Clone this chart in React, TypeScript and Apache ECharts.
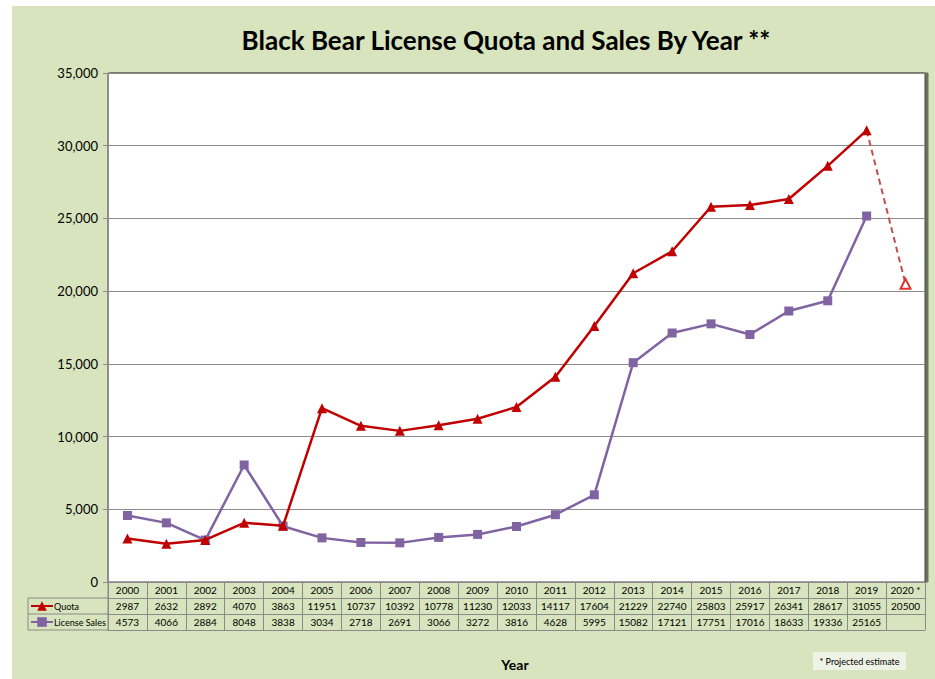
import React, { useEffect, useRef } from "react";
import * as echarts from "echarts";

const years = ["2000","2001","2002","2003","2004","2005","2006","2007","2008","2009","2010","2011","2012","2013","2014","2015","2016","2017","2018","2019","2020 *"];
const quota: (number | null)[] = [2987,2632,2892,4070,3863,11951,10737,10392,10778,11230,12033,14117,17604,21229,22740,25803,25917,26341,28617,31055,null];
const projectedQuota = 20500;
const licenseSales: (number | null)[] = [4573,4066,2884,8048,3838,3034,2718,2691,3066,3272,3816,4628,5995,15082,17121,17751,17016,18633,19336,25165,null];
const yTicks = { min: 0, max: 35000, interval: 5000 };

const TITLE = "Black Bear License Quota and Sales By Year **";
const FONT = "Lato, 'Open Sans', sans-serif";
const RED = "#c00000";
const PURPLE = "#8064a2";
const GREEN = "#d7e4bd";
const BORDER = "#8a8a8a";

const GRID_LEFT = 108;
const GRID_RIGHT = 10;
const GRID_TOP = 73;
const GRID_BOTTOM = 97;
const ROW = 16;
const W = 935;
const H = 679;

export default function App() {
  const ref = useRef<HTMLDivElement>(null);
  useEffect(() => {
    if (!ref.current) return;
    const chart = echarts.init(ref.current, undefined, { renderer: "svg" });
    const projection = years.map((_, i) => {
      if (i === years.length - 2) return { value: quota[i] as number, symbol: "none" };
      if (i === years.length - 1) return { value: projectedQuota, symbol: "emptyTriangle", symbolSize: 10 };
      return null;
    });
    const axisBottomY = H - GRID_BOTTOM;
    const tableAxis = (offset: number, labels: (string | number | null)[], showLabel: boolean, tick: boolean) => ({
      type: "category" as const,
      data: years,
      position: "bottom" as const,
      offset,
      gridIndex: 0,
      boundaryGap: true,
      axisLine: { show: true, lineStyle: { color: BORDER, width: 1 } },
      axisTick: { show: tick, length: ROW, interval: 0, lineStyle: { color: BORDER, width: 1 } },
      axisLabel: {
        show: showLabel,
        interval: 0,
        margin: 3,
        fontSize: 10,
        fontFamily: FONT,
        color: "#000",
        formatter: (_v: string, i: number) => (labels[i] === null || labels[i] === undefined ? "" : String(labels[i])),
      },
      splitLine: { show: false },
    });

    chart.setOption({
      animation: false,
      backgroundColor: "#fff",
      textStyle: { fontFamily: FONT },
      graphic: [
        { type: "rect", z: -10, silent: true, shape: { x: 12, y: 6, width: W - 12, height: H - 6 }, style: { fill: GREEN } },
        {
          type: "text", x: 506, y: 40, style: { text: TITLE, fontSize: 26, fontWeight: "bold", fontFamily: FONT, fill: "#000", align: "center", verticalAlign: "middle" },
        },
        {
          type: "text", x: 515, y: 664, style: { text: "Year", fontSize: 14, fontWeight: "bold", fontFamily: FONT, fill: "#000", align: "center", verticalAlign: "middle" },
        },
        {
          type: "group", x: 813, y: 652, children: [
            { type: "rect", shape: { x: 0, y: 0, width: 93, height: 18 }, style: { fill: "#eef3e6" } },
            { type: "text", x: 46.5, y: 9, style: { text: "* Projected estimate", fontSize: 9, fontFamily: FONT, fill: "#000", align: "center", verticalAlign: "middle" } },
          ],
        },
        // legend cell borders of the data table
        { type: "line", shape: { x1: 28, y1: axisBottomY + ROW, x2: GRID_LEFT, y2: axisBottomY + ROW }, style: { stroke: BORDER, lineWidth: 1 } },
        { type: "line", shape: { x1: 28, y1: axisBottomY + ROW * 2, x2: GRID_LEFT, y2: axisBottomY + ROW * 2 }, style: { stroke: BORDER, lineWidth: 1 } },
        { type: "line", shape: { x1: 28, y1: axisBottomY + ROW * 3, x2: GRID_LEFT, y2: axisBottomY + ROW * 3 }, style: { stroke: BORDER, lineWidth: 1 } },
        { type: "line", shape: { x1: 28, y1: axisBottomY + ROW, x2: 28, y2: axisBottomY + ROW * 3 }, style: { stroke: BORDER, lineWidth: 1 } },
        { type: "line", shape: { x1: GRID_LEFT, y1: axisBottomY, x2: GRID_LEFT, y2: axisBottomY + ROW * 3 }, style: { stroke: BORDER, lineWidth: 1 } },
      ],
      grid: {
        left: GRID_LEFT, right: GRID_RIGHT, top: GRID_TOP, bottom: GRID_BOTTOM,
        show: true, backgroundColor: "#fff", borderColor: "#404040", borderWidth: 1,
        shadowColor: "rgba(0,0,0,0.5)", shadowOffsetX: 3, shadowOffsetY: 0, shadowBlur: 0,
      },
      legend: {
        data: ["Quota", "License Sales"],
        orient: "vertical",
        left: 30,
        top: axisBottomY + ROW + 2,
        padding: 0,
        itemWidth: 22,
        itemHeight: 12,
        itemGap: 4,
        textStyle: { fontSize: 9, lineHeight: 12, fontFamily: FONT, color: "#000", padding: [0, 0, 0, -4] },
      },
      xAxis: [
        tableAxis(0, years, true, true),
        tableAxis(ROW, quota.map((v, i) => (i === years.length - 1 ? projectedQuota : v)), true, true),
        tableAxis(ROW * 2, licenseSales, true, true),
        tableAxis(ROW * 3, [], false, false),
      ],
      yAxis: {
        type: "value",
        min: yTicks.min,
        max: yTicks.max,
        interval: yTicks.interval,
        axisLine: { show: true, lineStyle: { color: "#8c8c8c" } },
        axisTick: { show: true, length: 5, lineStyle: { color: "#8c8c8c" } },
        axisLabel: {
          fontSize: 13, fontFamily: FONT, color: "#000", margin: 10,
          formatter: (v: number) => v.toLocaleString("en-US"),
        },
        splitLine: { show: true, lineStyle: { color: "#8c8c8c", width: 1 } },
      },
      series: [
        {
          name: "Quota", type: "line", xAxisIndex: 0, data: quota,
          symbol: "triangle", symbolSize: 10,
          lineStyle: { color: RED, width: 2.5 }, itemStyle: { color: RED },
          z: 3,
        },
        {
          name: "License Sales", type: "line", xAxisIndex: 0, data: licenseSales,
          symbol: "rect", symbolSize: 9,
          lineStyle: { color: PURPLE, width: 2.5 }, itemStyle: { color: PURPLE },
          z: 2,
        },
        {
          name: "Projection", type: "line", xAxisIndex: 0, data: projection,
          lineStyle: { color: "#c0504d", width: 2, type: [6, 4] },
          itemStyle: { color: "#e03030", borderColor: "#e03030", borderWidth: 1.2 },
          z: 1,
        },
      ],
    });
    return () => chart.dispose();
  }, []);
  return <div ref={ref} style={{ position: "fixed", left: 0, top: 0, width: W, height: H }} />;
}
